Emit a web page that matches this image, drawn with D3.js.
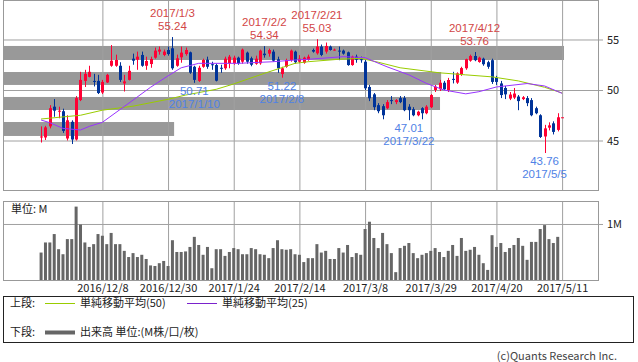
<!DOCTYPE html>
<html>
<head>
<meta charset="utf-8">
<script src="https://cdnjs.cloudflare.com/ajax/libs/d3/7.8.5/d3.min.js"></script>
<style>
  body { margin: 0; background: #fff; }
  svg text { font-family: "Noto Sans CJK JP", "Noto Sans", sans-serif; font-size: 11px; fill: #222; }
  svg text.note { font-family: "Liberation Sans", "DejaVu Sans", sans-serif; font-size: 11.5px; }
  .grid line { stroke: #a0a0a0; }
  .grid path { display: none; }
</style>
</head>
<body>
<div id="chart"></div>
<script>
// trading days on the chart, by month
const tradingDays = [
  ["2016/11", [17, 18, 21, 22, 23, 25, 28, 29, 30]],
  ["2016/12", [1, 2, 5, 6, 7, 8, 9, 12, 13, 14, 15, 16, 19, 20, 21, 22, 23, 27, 28, 29, 30]],
  ["2017/1", [3, 4, 5, 6, 9, 10, 11, 12, 13, 17, 18, 19, 20, 23, 24, 25, 26, 27, 30, 31]],
  ["2017/2", [1, 2, 3, 6, 7, 8, 9, 10, 13, 14, 15, 16, 17, 21, 22, 23, 24, 27, 28]],
  ["2017/3", [1, 2, 3, 6, 7, 8, 9, 10, 13, 14, 15, 16, 17, 20, 21, 22, 23, 24, 27, 28, 29, 30, 31]],
  ["2017/4", [3, 4, 5, 6, 7, 10, 11, 12, 13, 17, 18, 19, 20, 21, 24, 25, 26, 27, 28]],
  ["2017/5", [1, 2, 3, 4, 5, 8, 9, 10, 11]]
];
const dates = tradingDays.flatMap(([m, days]) => days.map(d => `${m}/${d}`));

const openPx = [
  45.35, 45.3, 46.4, 48.35, 47.9, 47.9, 45.2, 46.85, 45.1, 49.0, 50.9, 51.3, 50.9, 50.9, 49.75, 50.75, 52.4, 52.4, 52.4, 50.65,
  51.0, 53.1, 53.0, 53.47, 52.4, 52.57, 53.2, 53.8, 53.47, 53.96, 54.13, 52.4, 53.24, 53.56, 53.73, 52.3, 50.9, 52.3, 53.0, 52.55,
  52.47, 52.2, 52.15, 52.64, 52.64, 53.2, 52.8, 53.7, 53.14, 52.6, 52.64, 53.6, 53.6, 53.8, 53.04, 51.58, 52.3, 52.97, 53.8, 52.8,
  52.7, 52.97, 53.96, 53.63, 54.3, 53.8, 54.3, 53.95, 53.9, 53.9, 53.73, 52.47, 53.3, 53.05, 52.8, 50.3, 49.57, 48.5, 48.4, 48.2,
  49.0, 48.8, 49.2, 49.2, 48.35, 48.1, 47.5, 48.2, 47.7, 48.3, 50.0, 50.07, 50.72, 50.0, 51.1, 50.73, 51.55, 52.15, 52.9, 53.37,
  52.77, 53.1, 52.75, 52.95, 51.2, 50.65, 50.2, 49.15, 49.25, 49.35, 49.1, 49.2, 49.0, 48.2, 47.5, 45.4, 46.27, 46.7, 46.05, 47.3
];
const highPx = [
  46.4, 46.45, 48.5, 49.1, 48.35, 48.15, 47.5, 47.0, 49.4, 51.8, 52.0, 52.4, 51.6, 51.5, 51.0, 51.6, 54.45, 53.5, 52.75, 51.5,
  52.4, 53.6, 53.8, 53.8, 53.3, 53.3, 54.2, 54.3, 54.0, 54.3, 55.24, 53.5, 54.3, 54.2, 53.8, 52.4, 52.4, 53.1, 53.3, 52.8,
  52.6, 52.5, 53.3, 53.47, 53.4, 53.3, 54.1, 53.8, 53.3, 53.4, 54.0, 54.34, 54.1, 54.0, 53.3, 52.3, 53.1, 54.0, 53.9, 53.45,
  53.3, 53.5, 54.1, 55.03, 54.5, 54.7, 54.4, 54.1, 54.3, 54.0, 53.8, 53.4, 53.5, 53.3, 53.0, 50.5, 49.7, 48.7, 48.6, 49.0,
  49.4, 49.1, 49.4, 49.4, 48.6, 48.3, 47.95, 48.3, 48.5, 49.6, 50.5, 51.0, 50.9, 51.2, 51.8, 51.75, 52.3, 53.1, 53.5, 53.76,
  53.3, 53.2, 52.9, 53.1, 51.4, 50.9, 50.4, 49.8, 50.2, 49.5, 49.4, 49.4, 49.2, 48.35, 47.6, 46.55, 46.8, 46.9, 47.7, 47.3
];
const lowPx = [
  44.8, 45.05, 46.2, 47.35, 47.2, 45.75, 45.0, 44.65, 45.0, 48.9, 50.3, 51.25, 50.35, 49.6, 49.6, 50.7, 52.3, 52.3, 50.8, 49.85,
  50.95, 52.5, 52.0, 52.3, 52.0, 52.2, 53.1, 53.5, 53.35, 53.4, 52.0, 52.3, 52.7, 53.4, 51.6, 50.71, 50.8, 52.2, 52.1, 52.0,
  50.85, 51.7, 52.0, 52.15, 52.5, 52.5, 52.6, 52.6, 52.35, 52.5, 52.5, 53.2, 53.3, 52.8, 51.7, 51.22, 52.2, 52.8, 52.6, 52.65,
  52.6, 52.9, 53.7, 53.5, 53.35, 53.6, 53.9, 53.9, 52.95, 53.5, 52.4, 52.4, 52.7, 52.7, 50.0, 48.9, 48.0, 47.7, 47.1, 48.1,
  48.6, 48.6, 48.7, 47.9, 47.01, 47.4, 47.4, 47.1, 47.6, 48.2, 49.8, 49.9, 50.0, 49.8, 50.65, 50.6, 51.4, 52.0, 52.8, 52.85,
  52.7, 52.4, 52.1, 50.6, 50.5, 49.2, 49.1, 49.0, 49.1, 48.0, 49.0, 48.4, 47.4, 47.6, 45.25, 43.76, 46.0, 45.6, 45.9, 47.3
];
const closePx = [
  45.4, 46.3, 48.2, 47.95, 47.95, 45.95, 47.0, 45.1, 49.2, 51.0, 51.6, 51.8, 50.85, 49.7, 50.8, 51.5, 52.9, 52.97, 51.0, 50.85,
  51.9, 52.9, 53.3, 52.4, 52.87, 53.07, 53.9, 54.0, 53.8, 53.56, 52.15, 53.14, 53.7, 53.96, 51.71, 51.0, 52.2, 52.97, 52.3, 52.45,
  50.92, 52.15, 53.1, 53.3, 53.2, 52.64, 54.0, 52.8, 52.5, 53.1, 53.9, 53.45, 53.96, 52.9, 52.15, 52.15, 52.97, 53.9, 52.75, 53.1,
  53.2, 53.3, 53.8, 54.3, 53.47, 54.36, 53.96, 54.0, 53.85, 53.6, 52.47, 53.3, 53.0, 53.0, 50.17, 49.18, 48.3, 47.9, 47.5, 48.8,
  48.9, 49.0, 48.8, 48.0, 48.0, 47.5, 47.85, 47.7, 48.35, 49.5, 50.33, 50.72, 50.07, 50.99, 51.05, 51.65, 52.17, 53.05, 53.37, 52.95,
  53.2, 52.55, 52.3, 50.8, 50.8, 49.5, 49.57, 49.55, 49.65, 48.9, 49.28, 48.7, 47.5, 47.7, 45.35, 46.2, 46.5, 45.85, 47.3, 47.3
];
// volume, millions
const volume = [
  0.49, 0.67, 0.67, 0.82, 0.55, 0.46, 0.73, 0.73, 1.31, 0.99, 0.67, 0.59, 0.64, 0.82, 0.79, 0.64, 0.84, 0.64, 0.64, 0.52,
  0.41, 0.48, 0.41, 0.45, 0.375, 0.26, 0.25, 0.30, 0.34, 0.25, 0.71, 0.5, 0.5, 0.51, 0.59, 0.77, 0.625, 0.45, 0.59, 0.21,
  0.55, 0.55, 0.43, 0.5, 0.57, 0.55, 0.46, 0.46, 0.57, 0.55, 0.46, 0.45, 0.39, 0.57, 0.71, 0.55, 0.54, 0.55, 0.46, 0.45,
  0.32, 0.39, 0.39, 0.64, 0.49, 0.52, 0.375, 0.375, 0.57, 0.49, 0.625, 0.41, 0.48, 0.45, 0.91, 1.04, 0.75, 0.57, 0.84, 0.64,
  0.48, 0.14, 0.57, 0.61, 0.66, 0.48, 0.39, 0.45, 0.48, 0.52, 0.57, 0.5, 0.41, 0.52, 0.625, 0.43, 0.75, 0.52, 0.54, 0.59,
  0.45, 0.30, 0.18, 0.80, 0.59, 0.66, 0.5, 0.57, 0.625, 0.75, 0.61, 0.36, 0.68, 0.68, 0.91, 0.98, 0.73, 0.66, 0.77
];

// moving averages: [day index, value]
const ma50 = [[0, 47.13], [9, 47.5], [14, 48.0], [21, 48.4], [29, 49.08], [33, 49.5], [40, 50.07], [44, 50.6], [51, 51.65],
  [58, 52.64], [61, 52.8], [68, 53.04], [73, 53.14], [77, 52.75], [82, 52.2], [91, 51.7], [97, 51.5], [103, 51.3],
  [109, 50.9], [115, 50.27], [119, 49.7]];
const ma25 = [[0, 47.03], [2, 46.76], [5, 46.2], [9, 46.04], [11, 46.4], [14, 46.8], [21, 49.0], [25, 50.27], [29, 51.4],
  [32, 52.2], [36, 52.64], [45, 52.64], [53, 52.8], [58, 52.97], [61, 53.04], [69, 53.3], [74, 53.2], [79, 52.3],
  [84, 51.5], [88, 50.66], [92, 50.0], [97, 49.62], [100, 49.83], [104, 50.3], [111, 50.64], [115, 50.4], [119, 49.67]];

// volume-by-price bands
const bandLow = [52.97, 50.5, 48.02, 45.45];
const bandHigh = [54.36, 51.78, 49.31, 46.83];
const bandShare = [100, 78.1, 77.9, 30.5];

const highDates = ["2017/1/3", "2017/2/2", "2017/2/21", "2017/4/12"];
const lowDates = ["2017/1/10", "2017/2/8", "2017/3/22", "2017/5/5"];

const xTickLabels = ["2016/12/8", "2016/12/30", "2017/1/24", "2017/2/14", "2017/3/8", "2017/3/29", "2017/4/20", "2017/5/11"];
const priceTicks = [45, 50, 55];
const volumeTicks = [1];

class CandleChart {
  constructor(_config) {
    this.config = {
      parentElement: _config.parentElement,
      containerWidth: _config.containerWidth || 638,
      containerHeight: _config.containerHeight || 362,
      left: 3, right: 598,
      priceTop: 0, priceBottom: 190,
      volTop: 201, volBottom: 280
    };
    this.initVis();
  }

  initVis() {
    const vis = this;
    const c = vis.config;

    vis.svg = d3.select(c.parentElement).append("svg")
      .attr("width", c.containerWidth)
      .attr("height", c.containerHeight);

    // day index -> x, with some empty slots on both sides
    vis.xScale = d3.scaleLinear().domain([-8.7, dates.length - 1 + 8.2]).range([c.left, c.right]);
    vis.yScale = d3.scaleLinear().domain([40.1, 58.91]).range([c.priceBottom, c.priceTop]);
    vis.vScale = d3.scaleLinear().domain([0, 1.41]).range([c.volBottom, c.volTop]);
    vis.bandScale = d3.scaleLinear().domain([0, 100]).range([c.left, 564]);

    vis.renderVis();
  }

  renderVis() {
    const vis = this;
    const c = vis.config;
    const x = vis.xScale, y = vis.yScale, v = vis.vScale;
    const idx = d => dates.indexOf(d);

    // volume-by-price bands behind everything
    vis.svg.selectAll(".band")
      .data(bandShare)
      .join("rect")
      .attr("class", "band")
      .attr("x", c.left)
      .attr("y", (d, i) => y(bandHigh[i]))
      .attr("width", d => vis.bandScale(d) - c.left)
      .attr("height", (d, i) => y(bandLow[i]) - y(bandHigh[i]))
      .attr("fill", "#999");

    // grid
    vis.svg.append("g").attr("class", "grid")
      .attr("transform", `translate(603,0)`)
      .call(d3.axisRight(y).tickValues(priceTicks).tickSize(-600).tickPadding(4));
    vis.svg.append("g").attr("class", "grid")
      .attr("transform", `translate(0,${c.priceBottom})`)
      .call(d3.axisBottom(x).tickValues(xTickLabels.map(idx)).tickSize(-(c.priceBottom - c.priceTop)).tickFormat(""));
    vis.svg.append("g").attr("class", "grid")
      .attr("transform", `translate(603,0)`)
      .call(d3.axisRight(v).tickValues(volumeTicks).tickSize(-600).tickPadding(4).tickFormat(d => d + "M"));
    vis.svg.append("g").attr("class", "grid")
      .attr("transform", `translate(0,${c.volBottom})`)
      .call(d3.axisBottom(x).tickValues(xTickLabels.map(idx)).tickSize(-(c.volBottom - c.volTop))
        .tickPadding(4).tickFormat(i => dates[i]));

    // panel frames
    [[c.priceTop, c.priceBottom], [c.volTop, c.volBottom]].forEach(([t, b]) => {
      vis.svg.append("rect")
        .attr("x", c.left + 0.5).attr("y", t + 0.5)
        .attr("width", c.right - c.left).attr("height", b - t)
        .attr("fill", "none").attr("stroke", "#999");
    });

    // volume bars
    vis.svg.selectAll(".vol")
      .data(volume)
      .join("rect")
      .attr("class", "vol")
      .attr("x", (d, i) => x(i) - 1.5)
      .attr("y", d => v(d))
      .attr("width", 3)
      .attr("height", d => v(0) - v(d))
      .attr("fill", "#666");

    // candles
    const candles = vis.svg.selectAll(".candle")
      .data(dates)
      .join("g")
      .attr("class", "candle")
      .attr("fill", (d, i) => closePx[i] >= openPx[i] ? "#ff0033" : "#003399")
      .attr("stroke", (d, i) => closePx[i] >= openPx[i] ? "#ff0033" : "#003399");
    candles.append("line")
      .attr("x1", (d, i) => Math.round(x(i)) + 0.5)
      .attr("x2", (d, i) => Math.round(x(i)) + 0.5)
      .attr("y1", (d, i) => y(highPx[i]))
      .attr("y2", (d, i) => y(lowPx[i]));
    candles.append("rect")
      .attr("stroke", "none")
      .attr("x", (d, i) => Math.round(x(i)) - 1)
      .attr("width", 3)
      .attr("y", (d, i) => y(Math.max(openPx[i], closePx[i])))
      .attr("height", (d, i) => Math.max(1, Math.abs(y(openPx[i]) - y(closePx[i]))));

    // moving averages
    const line = d3.line().x(d => x(d[0])).y(d => y(d[1]));
    vis.svg.append("path").datum(ma50).attr("d", line)
      .attr("fill", "none").attr("stroke", "#99cc00").attr("stroke-width", 1);
    vis.svg.append("path").datum(ma25).attr("d", line)
      .attr("fill", "none").attr("stroke", "#9933ff").attr("stroke-width", 1);

    // high / low labels
    highDates.forEach(d => {
      const i = idx(d);
      const g = vis.svg.append("g").attr("text-anchor", "middle");
      g.append("text").attr("class", "note").attr("x", x(i)).attr("y", y(highPx[i]) - 20).text(d).style("fill", "#d24646");
      g.append("text").attr("class", "note").attr("x", x(i)).attr("y", y(highPx[i]) - 7).text(highPx[i].toFixed(2)).style("fill", "#d24646");
    });
    lowDates.forEach(d => {
      const i = idx(d);
      const g = vis.svg.append("g").attr("text-anchor", "middle");
      g.append("text").attr("class", "note").attr("x", x(i)).attr("y", y(lowPx[i]) + 12).text(lowPx[i].toFixed(2)).style("fill", "#4f82e6");
      g.append("text").attr("class", "note").attr("x", x(i)).attr("y", y(lowPx[i]) + 25).text(d).style("fill", "#4f82e6");
    });

    vis.svg.append("text").attr("x", 11).attr("y", 213).text("単位: M");

    // legend
    vis.svg.append("rect")
      .attr("x", 3.5).attr("y", 296.5).attr("width", 630).attr("height", 46)
      .attr("fill", "none").attr("stroke", "#222");
    const legendRows = [
      { label: "上段:", y: 303, items: [
        { x: 45, color: "#99cc00", width: 1, text: "単純移動平均(50)" },
        { x: 187, color: "#7a22cc", width: 1, text: "単純移動平均(25)" }] },
      { label: "下段:", y: 332, items: [
        { x: 45, color: "#666", width: 4, text: "出来高 単位:(M株/口/枚)" }] }
    ];
    legendRows.forEach(row => {
      vis.svg.append("text").attr("x", 10).attr("y", row.y + 4).text(row.label);
      row.items.forEach(it => {
        vis.svg.append("line")
          .attr("x1", it.x).attr("x2", it.x + 30).attr("y1", row.y + 0.5).attr("y2", row.y + 0.5)
          .attr("stroke", it.color).attr("stroke-width", it.width);
        vis.svg.append("text").attr("x", it.x + 35).attr("y", row.y + 4).text(it.text);
      });
    });

    vis.svg.append("text")
      .attr("x", 617).attr("y", 360)
      .attr("text-anchor", "end")
      .style("fill", "#444")
      .text("(c)Quants Research Inc.");
  }
}

const chart = new CandleChart({
  parentElement: "#chart",
  containerWidth: 638,
  containerHeight: 362
});
</script>
</body>
</html>
